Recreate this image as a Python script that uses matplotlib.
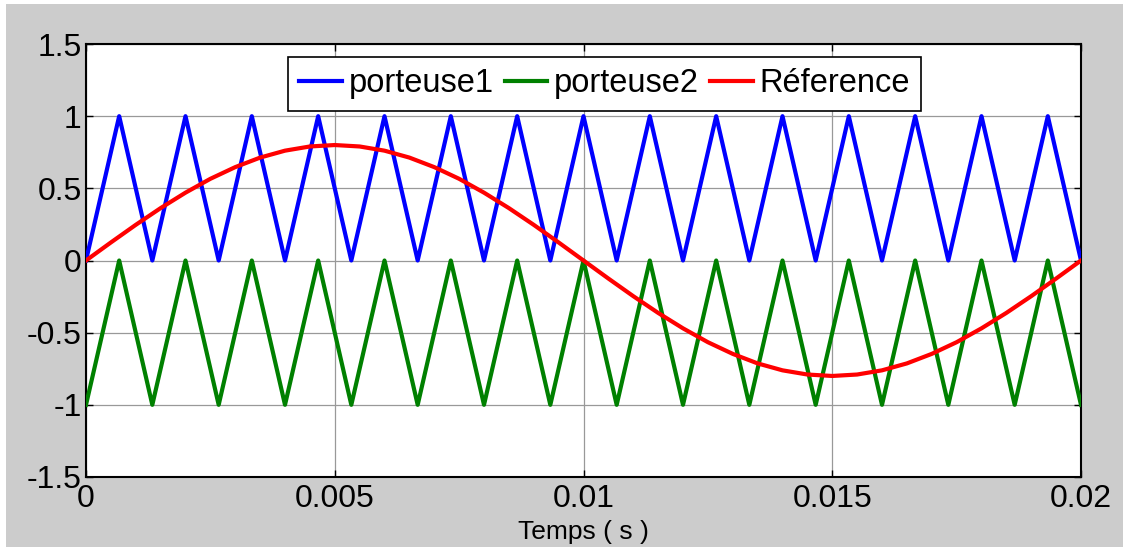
import matplotlib
matplotlib.use("Agg")
import matplotlib.pyplot as plt
from matplotlib.patches import Rectangle

plt.rcParams['font.family'] = ['Liberation Sans', 'DejaVu Sans']

# Triangle carrier vertices (time in s)
carrier_t = [0.0, 0.000667, 0.001333, 0.002, 0.002667, 0.003333, 0.004, 0.004667,
             0.005333, 0.006, 0.006667, 0.007333, 0.008, 0.008667, 0.009333, 0.01,
             0.010667, 0.011333, 0.012, 0.012667, 0.013333, 0.014, 0.014667,
             0.015333, 0.016, 0.016667, 0.017333, 0.018, 0.018667, 0.019333, 0.02]
porteuse1 = [0, 1, 0, 1, 0, 1, 0, 1, 0, 1, 0, 1, 0, 1, 0, 1,
             0, 1, 0, 1, 0, 1, 0, 1, 0, 1, 0, 1, 0, 1, 0]
porteuse2 = [-1, 0, -1, 0, -1, 0, -1, 0, -1, 0, -1, 0, -1, 0, -1, 0,
             -1, 0, -1, 0, -1, 0, -1, 0, -1, 0, -1, 0, -1, 0, -1]

# Reference sine samples
ref_t = [0.0, 0.0005, 0.001, 0.0015, 0.002, 0.0025, 0.003, 0.0035, 0.004, 0.0045,
         0.005, 0.0055, 0.006, 0.0065, 0.007, 0.0075, 0.008, 0.0085, 0.009, 0.0095,
         0.01, 0.0105, 0.011, 0.0115, 0.012, 0.0125, 0.013, 0.0135, 0.014, 0.0145,
         0.015, 0.0155, 0.016, 0.0165, 0.017, 0.0175, 0.018, 0.0185, 0.019, 0.0195, 0.02]
reference = [0.0, 0.125, 0.247, 0.363, 0.470, 0.566, 0.647, 0.713, 0.761, 0.790,
             0.800, 0.790, 0.761, 0.713, 0.647, 0.566, 0.470, 0.363, 0.247, 0.125,
             0.0, -0.125, -0.247, -0.363, -0.470, -0.566, -0.647, -0.713, -0.761, -0.790,
             -0.800, -0.790, -0.761, -0.713, -0.647, -0.566, -0.470, -0.363, -0.247, -0.125, 0.0]

xticks = [0, 0.005, 0.01, 0.015, 0.02]
xticklabels = ['0', '0.005', '0.01', '0.015', '0.02']
yticks = [-1.5, -1, -0.5, 0, 0.5, 1, 1.5]
yticklabels = ['-1.5', '-1', '-0.5', '0', '0.5', '1', '1.5']

W, H = 1123, 547
fig = plt.figure(figsize=(W / 100, H / 100), dpi=100, facecolor='white')
fig.patches.append(Rectangle((6 / W, 0), 1 - 6 / W, 1 - 4 / H, transform=fig.transFigure,
                             facecolor='#cccccc', edgecolor='none', zorder=-10))

ax = fig.add_axes([86 / W, 1 - 477 / H, (1081 - 86) / W, (477 - 44) / H])
ax.set_facecolor('white')

ax.plot(carrier_t, porteuse1, color='#0000ff', lw=3.0, label='porteuse1', zorder=3)
ax.plot(carrier_t, porteuse2, color='#008000', lw=3.0, label='porteuse2', zorder=3)
ax.plot(ref_t, reference, color='#ff0000', lw=3.0, label='Réference', zorder=4)

ax.set_xlim(0, 0.02)
ax.set_ylim(-1.5, 1.5)
ax.set_xticks(xticks)
ax.set_xticklabels(xticklabels)
ax.set_yticks(yticks)
ax.set_yticklabels(yticklabels)
ax.grid(True, color='#999999', lw=0.9, zorder=1)
ax.tick_params(direction='in', length=5, width=1, top=True, right=True,
               labelsize=23, colors='black')
ax.tick_params(axis='x', pad=5)
ax.tick_params(axis='y', pad=3)
for s in ax.spines.values():
    s.set_linewidth(1.5)
    s.set_color('black')

ax.set_xlabel('Temps ( s )', fontsize=19, labelpad=4)

leg = ax.legend(loc='upper left', bbox_to_anchor=((288 - 86) / 995, (477 - 57) / 433),
                ncol=3, fontsize=23.5, frameon=True, fancybox=False, framealpha=1,
                edgecolor='black', handlelength=1.3, handletextpad=0.2,
                columnspacing=0.35, borderpad=0.35, borderaxespad=0)
leg.get_frame().set_linewidth(1.2)

fig.savefig('out.png', dpi=100, facecolor=fig.get_facecolor())
